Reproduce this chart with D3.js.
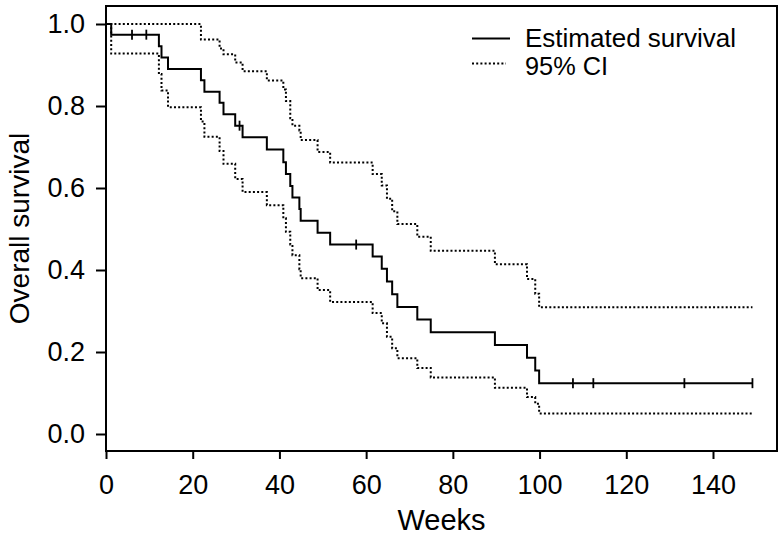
<!DOCTYPE html>
<html>
<head>
<meta charset="utf-8">
<script src="https://cdn.jsdelivr.net/npm/d3@7"></script>
<style>
  html, body { margin: 0; padding: 0; background: #fff; }
  svg { display: block; }
  text { font-family: "Liberation Sans", Arial, Helvetica, sans-serif; fill: #000; }
</style>
</head>
<body>
<svg id="chart" width="783" height="536"></svg>
<script>
// ---- Data ----
const weeks    = [0, 1.2, 12.2, 12.8, 14.3, 21.9, 22.7, 26.2, 27.1, 29.8, 31.5, 37.1, 40.9, 41.5, 42.5, 43.0, 44.6, 44.9, 48.8, 51.7, 61.5, 63.6, 64.8, 66.0, 67.2, 71.8, 74.9, 89.7, 97.1, 99.0, 99.9];
const survival = [1, 0.974, 0.946, 0.918, 0.890, 0.863, 0.835, 0.808, 0.780, 0.752, 0.724, 0.694, 0.663, 0.634, 0.605, 0.577, 0.549, 0.520, 0.491, 0.462, 0.433, 0.403, 0.372, 0.341, 0.310, 0.279, 0.248, 0.217, 0.186, 0.155, 0.124];
const upperCI  = [1, 1, 1, 1, 1, 0.962, 0.962, 0.940, 0.926, 0.906, 0.885, 0.862, 0.840, 0.812, 0.770, 0.752, 0.740, 0.717, 0.688, 0.662, 0.634, 0.606, 0.574, 0.543, 0.512, 0.481, 0.447, 0.414, 0.378, 0.342, 0.309];
const lowerCI  = [1, 0.928, 0.878, 0.838, 0.797, 0.762, 0.725, 0.690, 0.659, 0.622, 0.590, 0.558, 0.526, 0.493, 0.462, 0.436, 0.402, 0.380, 0.351, 0.322, 0.295, 0.270, 0.237, 0.209, 0.185, 0.161, 0.138, 0.113, 0.090, 0.074, 0.050];
const censored = [6.0, 9.3, 30.8, 57.7, 107.7, 112.4, 133.4, 149.1];
const endWeek  = 149.1;
const xTicks   = [0, 20, 40, 60, 80, 100, 120, 140];
const yTicks   = [0.0, 0.2, 0.4, 0.6, 0.8, 1.0];
const legendLabels = ["Estimated survival", "95% CI"];
const xTitle = "Weeks";
const yTitle = "Overall survival";

// ---- Layout ----
const svg = d3.select("#chart");
const box = { left: 106, right: 777, top: 6, bottom: 451 };
const x = d3.scaleLinear().domain([0, 140]).range([106, 713]);
const y = d3.scaleLinear().domain([0, 1]).range([434, 24]);

function series(vals) {
  const pts = weeks.map((w, i) => [w, vals[i]]);
  pts.push([endWeek, vals[vals.length - 1]]);
  return pts;
}
const line = d3.line().x(d => x(d[0])).y(d => y(d[1])).curve(d3.curveStepAfter);

// CI lines
[upperCI, lowerCI].forEach(ci => {
  svg.append("path").datum(series(ci))
    .attr("d", line).attr("fill", "none").attr("stroke", "#000")
    .attr("stroke-width", 2).attr("stroke-dasharray", "2,2.2");
});

// survival line
svg.append("path").datum(series(survival))
  .attr("d", line).attr("fill", "none").attr("stroke", "#000")
  .attr("stroke-width", 2);

// censor marks
function survAt(t) {
  let v = survival[0];
  for (let i = 0; i < weeks.length; i++) if (weeks[i] <= t) v = survival[i];
  return v;
}
svg.append("g").selectAll("line").data(censored).join("line")
  .attr("x1", d => x(d)).attr("x2", d => x(d))
  .attr("y1", d => y(survAt(d)) - 5).attr("y2", d => y(survAt(d)) + 5)
  .attr("stroke", "#000").attr("stroke-width", 1.8);

// box
svg.append("rect")
  .attr("x", box.left).attr("y", box.top)
  .attr("width", box.right - box.left).attr("height", box.bottom - box.top)
  .attr("fill", "none").attr("stroke", "#000").attr("stroke-width", 2);

// axes
const xAxis = svg.append("g").attr("transform", `translate(0,${box.bottom})`)
  .call(d3.axisBottom(x).tickValues(xTicks).tickSize(8).tickPadding(16).tickFormat(d3.format("d")));
const yAxis = svg.append("g").attr("transform", `translate(${box.left},0)`)
  .call(d3.axisLeft(y).tickValues(yTicks).tickSize(10).tickPadding(11).tickFormat(d3.format(".1f")));
[xAxis, yAxis].forEach(g => {
  g.select(".domain").remove();
  g.selectAll(".tick line").attr("stroke", "#000").attr("stroke-width", 2);
  g.selectAll(".tick text").style("font-size", "27px").style("font-family", "'Liberation Sans', Arial, sans-serif").attr("fill", "#000");
});

// axis titles
svg.append("text").attr("x", (box.left + box.right) / 2).attr("y", 530)
  .attr("text-anchor", "middle").style("font-size", "29px").text(xTitle);
svg.append("text")
  .attr("transform", `translate(29,${(box.top + box.bottom) / 2}) rotate(-90)`)
  .attr("text-anchor", "middle").style("font-size", "28px").text(yTitle);

// legend
const legend = svg.append("g");
legend.append("line").attr("x1", 472).attr("x2", 510).attr("y1", 38.5).attr("y2", 38.5)
  .attr("stroke", "#000").attr("stroke-width", 2);
legend.append("line").attr("x1", 472).attr("x2", 506).attr("y1", 63.5).attr("y2", 63.5)
  .attr("stroke", "#000").attr("stroke-width", 2).attr("stroke-dasharray", "2,2.2");
legend.append("text").attr("x", 525).attr("y", 47).style("font-size", "25px")
  .attr("textLength", 211).attr("lengthAdjust", "spacingAndGlyphs").text(legendLabels[0]);
legend.append("text").attr("x", 525).attr("y", 75).style("font-size", "25px")
  .attr("textLength", 83).attr("lengthAdjust", "spacingAndGlyphs").text(legendLabels[1]);
</script>
</body>
</html>
